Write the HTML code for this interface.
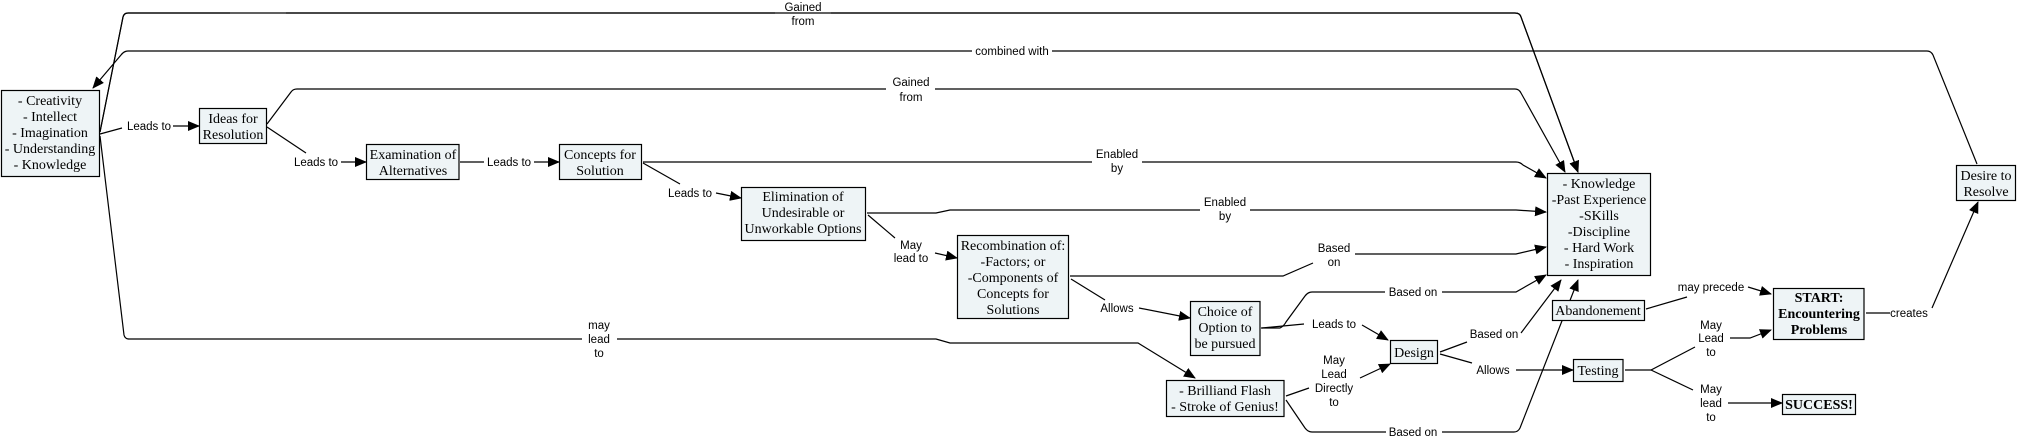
<!DOCTYPE html>
<html><head><meta charset="utf-8"><style>
html,body{margin:0;padding:0;background:#fff;}
svg{display:block;}
.n{fill:#eef4f6;stroke:#000;stroke-width:1.2;}
.t{font-family:"Liberation Serif",serif;font-size:14px;text-anchor:middle;fill:#000;}
.b{font-weight:bold;}
.l{font-family:"Liberation Sans",sans-serif;font-size:11.5px;text-anchor:middle;fill:#000;}
path{fill:none;stroke:#000;stroke-width:1.2;}
</style></head><body>
<svg width="2017" height="441" viewBox="0 0 2017 441" xmlns="http://www.w3.org/2000/svg">
<defs><marker id="a" markerUnits="userSpaceOnUse" markerWidth="12" markerHeight="10" refX="11" refY="5" orient="auto"><path d="M0,0 L12,5 L0,10 Z" style="fill:#000;stroke:none"/></marker></defs>

<!-- connectors -->
<path d="M100,132 L123,17 Q124,13 128,13 L230,13 M286,13 L1515,13 Q1520,13 1521,17 L1578,172" marker-end="url(#a)" style="fill:none"/>
<path d="M100,132 L123,17 Q124,13 128,13 L775,13 M831,13 L1515,13 Q1520,13 1521,17 L1578,172" marker-end="url(#a)"/>
<path d="M1977,164 L1933,55 Q1931,51 1927,51 L1052,51 M972,51 L128,51 Q124,51 121,55 L93,88" marker-end="url(#a)"/>
<path d="M267,124 L291,92 Q293,89 297,89 L886,89 M935,89 L1515,89 Q1519,89 1521,93 L1565,172" marker-end="url(#a)"/>
<path d="M643,162 L1092,162 M1142,162 L1516,162 Q1520,162 1523,165 L1546,178" marker-end="url(#a)"/>
<path d="M867,213 L936,213 L950,210 L1200,210 M1250,210 L1516,210 L1546,212" marker-end="url(#a)"/>
<path d="M1070,276 L1283,276 L1313,263 M1355,254 L1516,254 L1546,247" marker-end="url(#a)"/>
<path d="M1261,328 L1280,328 Q1284,326 1286,322 L1305,296 Q1308,292 1312,292 L1385,292 M1442,292 L1516,292 L1546,275" marker-end="url(#a)"/>
<path d="M1262,328 L1304,324 M1362,325 L1388,340" marker-end="url(#a)"/>
<path d="M1440,352 L1467,342 M1521,333 L1561,280" marker-end="url(#a)"/>
<path d="M1440,354 L1472,363 M1516,370 L1573,370" marker-end="url(#a)"/>
<path d="M1286,400 L1305,428 Q1308,432 1312,432 L1386,432 M1442,432 L1514,432 Q1518,432 1520,428 L1578,280" marker-end="url(#a)"/>
<path d="M1286,396 L1309,388 M1360,378 L1390,364" marker-end="url(#a)"/>
<path d="M100,136 L124,335 Q125,339 129,339 L582,339 M617,339 L936,339 L950,343 L1138,343 L1195,378" marker-end="url(#a)"/>
<path d="M100,134 L122,128 M173,126 L199,126" marker-end="url(#a)"/>
<path d="M267,127 L306,153 M341,162 L366,162" marker-end="url(#a)"/>
<path d="M460,162 L484,162 M534,162 L559,162" marker-end="url(#a)"/>
<path d="M643,163 L680,184 M716,193 L741,198" marker-end="url(#a)"/>
<path d="M868,215 L895,238 M935,253 L957,258" marker-end="url(#a)"/>
<path d="M1071,279 L1105,300 M1139,308 L1190,318" marker-end="url(#a)"/>
<path d="M1646,309 L1687,297 M1748,287 L1771,294" marker-end="url(#a)"/>
<path d="M1625,370 L1651,370 L1695,347 M1730,338 L1750,338 L1771,330" marker-end="url(#a)"/>
<path d="M1651,370 L1693,390 M1728,403 L1782,403" marker-end="url(#a)"/>
<path d="M1866,313 L1890,313 M1932,308 L1978,202" marker-end="url(#a)"/>

<!-- labels -->
<text class="l" x="803" y="11">Gained</text><text class="l" x="803" y="25">from</text>
<text class="l" x="1012" y="55">combined with</text>
<text class="l" x="911" y="86">Gained</text><text class="l" x="911" y="101">from</text>
<text class="l" x="1117" y="158">Enabled</text><text class="l" x="1117" y="172">by</text>
<text class="l" x="1225" y="206">Enabled</text><text class="l" x="1225" y="220">by</text>
<text class="l" x="1334" y="252">Based</text><text class="l" x="1334" y="266">on</text>
<text class="l" x="1413" y="296">Based on</text>
<text class="l" x="1334" y="328">Leads to</text>
<text class="l" x="1494" y="338">Based on</text>
<text class="l" x="1493" y="374">Allows</text>
<text class="l" x="1413" y="436">Based on</text>
<text class="l" x="1334" y="364">May</text><text class="l" x="1334" y="378">Lead</text><text class="l" x="1334" y="392">Directly</text><text class="l" x="1334" y="406">to</text>
<text class="l" x="599" y="329">may</text><text class="l" x="599" y="343">lead</text><text class="l" x="599" y="357">to</text>
<text class="l" x="149" y="130">Leads to</text>
<text class="l" x="316" y="166">Leads to</text>
<text class="l" x="509" y="166">Leads to</text>
<text class="l" x="690" y="197">Leads to</text>
<text class="l" x="911" y="249">May</text><text class="l" x="911" y="262">lead to</text>
<text class="l" x="1117" y="312">Allows</text>
<text class="l" x="1711" y="291">may precede</text>
<text class="l" x="1711" y="329">May</text><text class="l" x="1711" y="342">Lead</text><text class="l" x="1711" y="356">to</text>
<text class="l" x="1711" y="393">May</text><text class="l" x="1711" y="407">lead</text><text class="l" x="1711" y="421">to</text>
<text class="l" x="1909" y="317">creates</text>

<!-- nodes -->
<rect class="n" x="1.5" y="90.5" width="98" height="86"/>
<text class="t" x="50" y="105">- Creativity</text><text class="t" x="50" y="121">- Intellect</text><text class="t" x="50" y="137">- Imagination</text><text class="t" x="50" y="153">- Understanding</text><text class="t" x="50" y="169">- Knowledge</text>

<rect class="n" x="199.5" y="108.5" width="67" height="35"/>
<text class="t" x="233" y="123">Ideas for</text><text class="t" x="233" y="139">Resolution</text>

<rect class="n" x="366.5" y="144.5" width="92.5" height="35"/>
<text class="t" x="413" y="159">Examination of</text><text class="t" x="413" y="175">Alternatives</text>

<rect class="n" x="559.5" y="144.5" width="82" height="35"/>
<text class="t" x="600" y="159">Concepts for</text><text class="t" x="600" y="175">Solution</text>

<rect class="n" x="741.5" y="187.5" width="124" height="53"/>
<text class="t" x="803" y="201">Elimination of</text><text class="t" x="803" y="217">Undesirable or</text><text class="t" x="803" y="233">Unworkable Options</text>

<rect class="n" x="957.5" y="235.5" width="111" height="83"/>
<text class="t" x="1013" y="250">Recombination of:</text><text class="t" x="1013" y="266">-Factors; or</text><text class="t" x="1013" y="282">-Components of</text><text class="t" x="1013" y="298">Concepts for</text><text class="t" x="1013" y="314">Solutions</text>

<rect class="n" x="1190.5" y="301.5" width="69.5" height="54"/>
<text class="t" x="1225" y="316">Choice of</text><text class="t" x="1225" y="332">Option to</text><text class="t" x="1225" y="348">be pursued</text>

<rect class="n" x="1166.5" y="380.5" width="117.5" height="36"/>
<text class="t" x="1225" y="395">- Brilliand Flash</text><text class="t" x="1225" y="411">- Stroke of Genius!</text>

<rect class="n" x="1390.5" y="340.5" width="47" height="23"/>
<text class="t" x="1414" y="357">Design</text>

<rect class="n" x="1547.5" y="173.5" width="103" height="102"/>
<text class="t" x="1599" y="188">- Knowledge</text><text class="t" x="1599" y="204">-Past Experience</text><text class="t" x="1599" y="220">-SKills</text><text class="t" x="1599" y="236">-Discipline</text><text class="t" x="1599" y="252">- Hard Work</text><text class="t" x="1599" y="268">- Inspiration</text>

<rect class="n" x="1552.5" y="300.5" width="92" height="20"/>
<text class="t" x="1598" y="315">Abandonement</text>

<rect class="n" x="1573.5" y="359.5" width="49.5" height="22"/>
<text class="t" x="1598" y="375">Testing</text>

<rect class="n" x="1773.5" y="288.5" width="90.5" height="51"/>
<text class="t b" x="1819" y="302">START:</text><text class="t b" x="1819" y="318">Encountering</text><text class="t b" x="1819" y="334">Problems</text>

<rect class="n" x="1782.5" y="394.5" width="73" height="20"/>
<text class="t b" x="1819" y="409">SUCCESS!</text>

<rect class="n" x="1956.5" y="165.5" width="59" height="35"/>
<text class="t" x="1986" y="180">Desire to</text><text class="t" x="1986" y="196">Resolve</text>
</svg>
</body></html>
